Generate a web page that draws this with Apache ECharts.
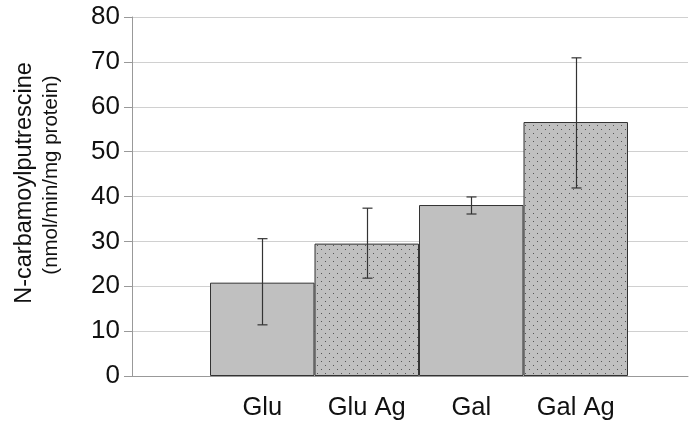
<!DOCTYPE html>
<html>
<head>
<meta charset="utf-8">
<script src="https://cdn.jsdelivr.net/npm/echarts@6/dist/echarts.min.js"></script>
<style>
  html, body { margin: 0; padding: 0; background: #fff; }
  #chart { width: 695px; height: 424px; }
</style>
</head>
<body>
<div id="chart"></div>
<script>
// data
const categories = ['Glu', 'Glu Ag', 'Gal', 'Gal Ag'];
const means = [20.8, 29.5, 38.1, 56.6];
const errLow = [11.4, 21.8, 36.1, 41.9];
const errHigh = [30.6, 37.4, 39.9, 70.9];
const dotted = [false, true, false, true];
const yTicks = { min: 0, max: 80, interval: 10 };

// dotted fill pattern
const makeDots = () => {
  const c = document.createElement('canvas');
  c.width = 8; c.height = 8;
  const ctx = c.getContext('2d');
  ctx.fillStyle = '#c0c0c0';
  ctx.fillRect(0, 0, 8, 8);
  ctx.fillStyle = '#555';
  ctx.fillRect(1, 1, 1, 1);
  ctx.fillRect(5, 5, 1, 1);
  return c;
};
const dotPattern = { image: makeDots(), repeat: 'repeat' };

const chart = echarts.init(document.getElementById('chart'));

const font = 'Liberation Sans, Arial, sans-serif';

const option = {
  animation: false,
  textStyle: { fontFamily: font },
  grid: [
    { left: 132, right: 7, top: 17, bottom: 48 },
    { left: 210, right: 67, top: 17, bottom: 48 }
  ],
  // y axis title, two lines set vertically
  graphic: [
    {
      type: 'text', x: 25, y: 183, rotation: Math.PI / 2,
      style: {
        text: 'N-carbamoylputrescine', fontSize: 23.5, fill: '#111',
        fontFamily: font, align: 'center', verticalAlign: 'middle'
      }
    },
    {
      type: 'text', x: 51, y: 175, rotation: Math.PI / 2,
      style: {
        text: '(nmol/min/mg protein)', fontSize: 20.5, fill: '#111',
        fontFamily: font, align: 'center', verticalAlign: 'middle'
      }
    }
  ],
  xAxis: [
    {
      gridIndex: 0, type: 'category', data: [''],
      axisLine: { lineStyle: { color: '#999', width: 1 } },
      axisTick: { show: false }, axisLabel: { show: false }
    },
    {
      gridIndex: 1, type: 'category', data: categories,
      axisLine: { show: false }, axisTick: { show: false },
      axisLabel: { fontSize: 25.5, color: '#111', margin: 19, fontFamily: font }
    }
  ],
  yAxis: [
    {
      gridIndex: 0, type: 'value',
      min: yTicks.min, max: yTicks.max, interval: yTicks.interval,
      axisLine: { show: true, lineStyle: { color: '#999', width: 1 } },
      axisTick: { show: true, length: 8, lineStyle: { color: '#999' } },
      splitLine: { lineStyle: { color: '#d0d0d0', width: 1 } },
      axisLabel: { fontSize: 26, color: '#111', margin: 12, fontFamily: font }
    },
    {
      gridIndex: 1, type: 'value', show: false,
      min: yTicks.min, max: yTicks.max
    }
  ],
  series: [
    {
      type: 'bar', xAxisIndex: 1, yAxisIndex: 1,
      barCategoryGap: 0,
      data: means.map((v, i) => ({
        value: v,
        itemStyle: { color: dotted[i] ? dotPattern : '#c0c0c0' }
      })),
      itemStyle: { borderColor: '#333', borderWidth: 1 }
    },
    {
      type: 'custom', xAxisIndex: 1, yAxisIndex: 1, z: 5,
      data: categories.map((c, i) => [i, errLow[i], errHigh[i]]),
      renderItem: (params, api) => {
        const lo = api.coord([api.value(0), api.value(1)]);
        const hi = api.coord([api.value(0), api.value(2)]);
        const x = Math.round(lo[0]) + 0.5;
        const cap = 5;
        const st = { stroke: '#333', lineWidth: 1.2 };
        return {
          type: 'group',
          children: [
            { type: 'line', shape: { x1: x, y1: hi[1], x2: x, y2: lo[1] }, style: st },
            { type: 'line', shape: { x1: x - cap, y1: hi[1], x2: x + cap, y2: hi[1] }, style: st },
            { type: 'line', shape: { x1: x - cap, y1: lo[1], x2: x + cap, y2: lo[1] }, style: st }
          ]
        };
      }
    }
  ]
};

chart.setOption(option);
</script>
</body>
</html>
